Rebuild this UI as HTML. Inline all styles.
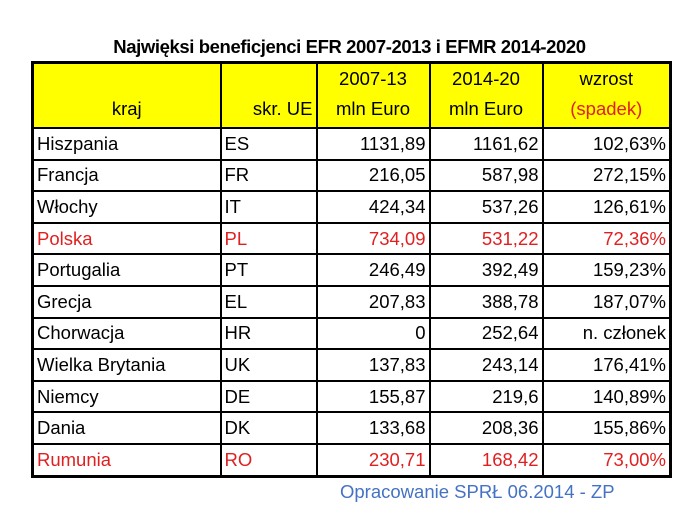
<!DOCTYPE html>
<html><head><meta charset="utf-8"><style>
body{margin:0;width:699px;height:517px;background:#fff;font-family:"Liberation Sans",sans-serif;position:relative;overflow:hidden}
.t{position:absolute;left:0;top:36px;width:699px;text-align:center;font-weight:bold;font-size:18.5px;color:#000;letter-spacing:-0.4px}
table{position:absolute;left:31px;top:61px;border-collapse:collapse;border:3px solid #000;table-layout:fixed;width:638px}
td{border:2px solid #000;padding:0 3px;height:29.6px;font-size:18.5px;line-height:20px;white-space:nowrap;overflow:hidden}
td.r{text-align:right}
thead td{background:#ffff00;height:59px;vertical-align:bottom;padding-bottom:3px;text-align:center;line-height:30px}
.red td{color:#e02020}
.s{color:#e02020}
.c{position:absolute;left:340px;top:481px;font-size:18.5px;color:#4472c4}
</style></head><body>
<div class="t">Najwięksi beneficjenci EFR 2007-2013 i EFMR 2014-2020</div>
<table>
<colgroup><col style="width:188px"><col style="width:96px"><col style="width:113px"><col style="width:113px"><col style="width:128px"></colgroup>
<thead><tr><td>kraj</td><td style="text-align:right">skr. UE</td><td>2007-13<br>mln Euro</td><td>2014-20<br>mln Euro</td><td>wzrost<br><span class="s">(spadek)</span></td></tr></thead>
<tbody>
<tr><td>Hiszpania</td><td>ES</td><td class="r">1131,89</td><td class="r">1161,62</td><td class="r">102,63%</td></tr>
<tr><td>Francja</td><td>FR</td><td class="r">216,05</td><td class="r">587,98</td><td class="r">272,15%</td></tr>
<tr><td>Włochy</td><td>IT</td><td class="r">424,34</td><td class="r">537,26</td><td class="r">126,61%</td></tr>
<tr class="red"><td>Polska</td><td>PL</td><td class="r">734,09</td><td class="r">531,22</td><td class="r">72,36%</td></tr>
<tr><td>Portugalia</td><td>PT</td><td class="r">246,49</td><td class="r">392,49</td><td class="r">159,23%</td></tr>
<tr><td>Grecja</td><td>EL</td><td class="r">207,83</td><td class="r">388,78</td><td class="r">187,07%</td></tr>
<tr><td>Chorwacja</td><td>HR</td><td class="r">0</td><td class="r">252,64</td><td class="r">n. członek</td></tr>
<tr><td>Wielka Brytania</td><td>UK</td><td class="r">137,83</td><td class="r">243,14</td><td class="r">176,41%</td></tr>
<tr><td>Niemcy</td><td>DE</td><td class="r">155,87</td><td class="r">219,6</td><td class="r">140,89%</td></tr>
<tr><td>Dania</td><td>DK</td><td class="r">133,68</td><td class="r">208,36</td><td class="r">155,86%</td></tr>
<tr class="red"><td>Rumunia</td><td>RO</td><td class="r">230,71</td><td class="r">168,42</td><td class="r">73,00%</td></tr>
</tbody></table>
<div class="c">Opracowanie SPRŁ 06.2014 - ZP</div>
</body></html>
